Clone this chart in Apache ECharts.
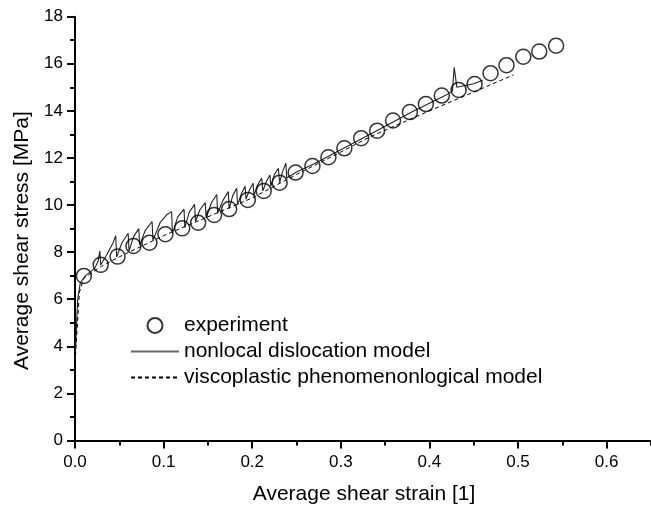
<!DOCTYPE html>
<html>
<head>
<meta charset="utf-8">
<script src="https://cdn.jsdelivr.net/npm/echarts@6/dist/echarts.min.js"></script>
<style>
html,body{margin:0;padding:0;background:#fff;}
#chart{width:651px;height:507px;}
</style>
</head>
<body>
<div id="chart"></div>
<script>
// Experiment (circles)
const expX = [0.010,0.029,0.048,0.066,0.084,0.102,0.121,0.139,0.157,0.174,0.195,0.213,0.231,0.249,0.268,0.286,0.304,0.323,0.341,0.359,0.378,0.396,0.414,0.433,0.451,0.469,0.487,0.506,0.524,0.543];
const expY = [6.99,7.46,7.81,8.26,8.40,8.76,9.01,9.25,9.58,9.83,10.22,10.60,10.95,11.38,11.66,12.03,12.41,12.84,13.16,13.59,13.95,14.29,14.65,14.89,15.14,15.60,15.94,16.30,16.52,16.77];

// Nonlocal dislocation model (solid, serrated)
const nlX = [0,0.003,0.006,0.012,0.022,0.026,0.028,0.029,0.036,0.043,0.046,0.047,0.053,0.060,0.061,0.066,0.072,0.073,0.079,0.087,0.088,0.096,0.104,0.109,0.110,0.116,0.123,0.124,0.129,0.135,0.136,0.141,0.147,0.148,0.154,0.160,0.161,0.167,0.173,0.174,0.178,0.1825,0.1835,0.188,0.192,0.193,0.197,0.201,0.202,0.206,0.2107,0.212,0.216,0.220,0.221,0.225,0.2295,0.231,0.234,0.238,0.239,0.25,0.27,0.30,0.34,0.38,0.42,0.426,0.428,0.431,0.45,0.46];
const nlY = [3.4,6.0,6.7,7.0,7.3,7.6,8.05,7.45,7.9,8.4,8.7,7.8,8.4,8.8,8.05,8.65,9.0,8.3,8.9,9.3,8.5,9.25,9.6,9.72,8.8,9.5,9.83,9.05,9.7,10.03,9.3,9.8,10.1,9.45,10.1,10.45,9.65,10.2,10.57,9.85,10.4,10.71,10.0,10.5,10.8,10.25,10.65,10.93,10.4,10.85,11.14,10.6,11.0,11.28,10.8,11.3,11.56,10.95,11.4,11.78,11.15,11.4,11.75,12.35,13.15,13.95,14.7,14.85,15.85,15.0,15.15,15.3];

// Viscoplastic phenomenological model (dashed)
const vpX = [0,0.005,0.010,0.030,0.050,0.100,0.150,0.200,0.250,0.300,0.333,0.350,0.400,0.450,0.495];
const vpY = [3.3,6.3,6.9,7.4,7.8,8.7,9.5,10.3,11.3,12.25,12.9,13.18,14.0,14.8,15.53];

const xTicks = [0,0.1,0.2,0.3,0.4,0.5,0.6];
const yTicks = [0,2,4,6,8,10,12,14,16,18];

const zip = (a,b) => a.map((v,i)=>[v,b[i]]);
const FONT = 'Liberation Sans, Arial, sans-serif';

const chart = echarts.init(document.getElementById('chart'), null, {renderer:'canvas'});
chart.setOption({
  animation:false,
  backgroundColor:'#fff',
  grid:{left:75, width:620.2, top:16.7, height:423.8, containLabel:false, outerBoundsMode:'none'},
  xAxis:{
    type:'value', min:0, max:0.7, interval:0.1,
    name:'Average shear strain [1]', nameLocation:'middle', nameGap:43,
    nameTextStyle:{fontFamily:FONT, fontSize:21, color:'#000', padding:[0,42,0,0]},
    axisLine:{show:true, onZero:false, lineStyle:{color:'#000', width:2}},
    axisTick:{show:true, inside:false, length:8, lineStyle:{color:'#000', width:2}},
    minorTick:{show:true, splitNumber:2, length:5, lineStyle:{color:'#000', width:2}},
    splitLine:{show:false},
    axisLabel:{fontFamily:FONT, fontSize:17, color:'#000', margin:13,
      formatter:v=> xTicks.some(t=>Math.abs(t-v)<1e-9) ? v.toFixed(1) : ''}
  },
  yAxis:{
    type:'value', min:0, max:18, interval:2,
    name:'Average shear stress [MPa]', nameLocation:'middle', nameGap:39,
    nameTextStyle:{fontFamily:FONT, fontSize:21, color:'#000', padding:[0,24,0,0]},
    axisLine:{show:true, onZero:false, lineStyle:{color:'#000', width:2}},
    axisTick:{show:true, inside:false, length:8, lineStyle:{color:'#000', width:2}},
    minorTick:{show:true, splitNumber:2, length:5, lineStyle:{color:'#000', width:2}},
    splitLine:{show:false},
    axisLabel:{fontFamily:FONT, fontSize:17, color:'#000', margin:12,
      formatter:v=> yTicks.includes(v) ? String(v) : ''}
  },
  legend:{
    orient:'vertical', left:125, top:310, itemWidth:48, itemHeight:15, itemGap:5,
    textStyle:{fontFamily:FONT, fontSize:21, color:'#000'},
    data:[
      {name:'experiment'},
      {name:'nonlocal dislocation model', itemStyle:{opacity:0}, lineStyle:{color:'#666', width:2}},
      {name:'viscoplastic phenomenonlogical model', itemStyle:{opacity:0}}
    ]
  },
  series:[
    {
      name:'nonlocal dislocation model', type:'line', data:zip(nlX,nlY),
      showSymbol:false, symbol:'none',
      lineStyle:{color:'#222', width:1.1}, itemStyle:{color:'#555'}, z:2
    },
    {
      name:'viscoplastic phenomenonlogical model', type:'line', data:zip(vpX,vpY),
      showSymbol:false, symbol:'none',
      lineStyle:{color:'#000', width:1, type:[4,3]}, itemStyle:{color:'#000'}, z:2
    },
    {
      name:'experiment', type:'scatter', data:zip(expX,expY),
      symbol:'circle', symbolSize:15,
      itemStyle:{color:'rgba(255,255,255,0)', borderColor:'#000', borderWidth:1.5}, z:3
    }
  ]
});
</script>
</body>
</html>
